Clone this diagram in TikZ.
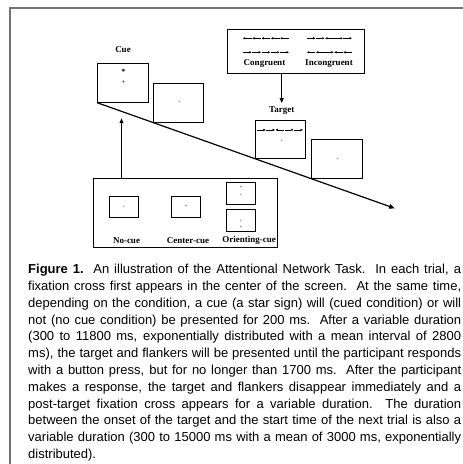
\documentclass[tikz,border=0pt]{standalone}
\usepackage{fontspec}
\setmainfont{Liberation Serif}
\newfontfamily\capfont{Liberation Sans}
\usetikzlibrary{arrows.meta}

% one row of five flanker arrows: start x, y, pitch, directions
\newcommand\flankrow[4]{%
  \foreach \d [count=\i from 0] in {#4} {%
    \pgfmathsetmacro\xa{#1+\i*#3}%
    \pgfmathsetmacro\xb{\xa+#3-0.7}%
    \ifnum\d>0
      \draw[flank] (\xa,#2) -- (\xb,#2);
    \else
      \draw[flank] (\xb,#2) -- (\xa,#2);
    \fi
  }}

\begin{document}
\begin{tikzpicture}[x=1pt,y=-1pt,
  screen/.style={draw, line width=0.9pt, minimum width=50.5pt, minimum height=38.8pt, inner sep=0pt},
  minisc/.style={draw, line width=0.9pt, minimum width=28.5pt, minimum height=21.4pt, inner sep=0pt},
  panel/.style={draw, line width=0.9pt, inner sep=0pt},
  lab/.style={font=\bfseries\fontsize{9}{9}\selectfont, inner sep=1pt},
  fixmark/.style={font=\fontsize{7}{7}\selectfont, inner sep=0pt},
  tinymark/.style={font=\fontsize{5}{5}\selectfont, inner sep=0pt, text=black!70},
  link/.style={line width=1.1pt, -{Triangle[length=5pt,width=4pt]}},
  flank/.style={line width=0.7pt, -{Triangle[length=2.2pt,width=2.2pt]}},
  caption/.style={text width=433pt, align=justify, inner sep=0pt,
    font=\capfont\fontsize{13}{16.8}\selectfont}]
\useasboundingbox (0,0) rectangle (463,464);

% outer frame
\draw[black!55, line width=1.6pt] (10,464) -- (10,8) -- (463,8);

% cue screen and the blank screen after it
\node[lab] (cuelab) at (123,49.5) {Cue};
\node[screen] (cue) at (123,82.9) {};
\node[fixmark, font=\bfseries\fontsize{8}{8}\selectfont] (star) at (123.3,72.2) {*};
\node[fixmark] (fix1) at (123.3,82.9) {+};
\node[screen] (blank1) at (178.5,102.7) {};
\node[tinymark] (fix2) at (179.5,102.4) {+};

% flanker panel
\node[panel, minimum width=137pt, minimum height=44.3pt] (flanker) at (295.8,51.2) {};
\flankrow{243}{38.3}{9.3}{-1,-1,-1,-1,-1}
\flankrow{243}{52.3}{9.3}{1,1,1,1,1}
\flankrow{307}{38.3}{9.1}{1,1,-1,1,1}
\flankrow{307}{52.3}{9.1}{-1,-1,1,-1,-1}
\node[lab] (conglab) at (264.5,63.8) {Congruent};
\node[lab] (inclab) at (329,63.8) {Incongruent};

% target screen and the blank screen after it
\node[lab] (tlab) at (281.7,110.7) {Target};
\node[screen] (target) at (280.5,139.5) {};
\flankrow{257}{129.9}{9.3}{1,1,-1,1,1}
\node[tinymark] (fix3) at (281.7,140.6) {+};
\node[screen] (blank2) at (336.8,159.0) {};
\node[tinymark] (fix4) at (337.7,159.1) {+};

% time line
\coordinate (tend) at (395,208.4);
\draw[line width=1.2pt, -{Triangle[length=6pt,width=4.5pt]}] (cue.south west) -- (tend);
\draw[link] (flanker.south -| tlab) -- ([yshift=2.5pt]tlab.north);

% cue conditions
\node[panel, minimum width=184.7pt, minimum height=68.8pt] (cues) at (185.35,213.0) {};
\coordinate (cuein) at (121.5,118.2);
\draw[link] (cues.north -| cuein) -- (cuein);
\node[minisc] (nocue) at (124,206.9) {};
\node[tinymark] at (124,207.2) {+};
\node[minisc] (centercue) at (186,206.7) {};
\node[tinymark] at (186,206.4) {*};
\node[minisc] (orient1) at (241,193.3) {};
\node[tinymark] at (241,187.9) {*};
\node[tinymark] at (241,195.2) {+};
\node[minisc] (orient2) at (241,220.6) {};
\node[tinymark] at (241,221.1) {+};
\node[tinymark] at (241,227.9) {*};
\node[lab] (nocuelab) at (126.5,240.3) {No-cue};
\node[lab] (centerlab) at (188,240.3) {Center-cue};
\node[lab] (orientlab) at (249,240.3) {Orienting-cue};

% caption
\node[caption, anchor=north west] (cap) at (28,264) {%
\textbf{Figure 1.}\ \ An illustration of the Attentional Network Task.\ \ In each trial, a\linebreak
fixation cross first appears in the center of the screen.\ \ At the same time,\linebreak
depending on the condition, a cue (a star sign) will (cued condition) or will\linebreak
not (no cue condition) be presented for 200 ms.\ \ After a variable duration\linebreak
(300 to 11800 ms, exponentially distributed with a mean interval of 2800\linebreak
ms), the target and flankers will be presented until the participant responds\linebreak
with a button press, but for no longer than 1700 ms.\ \ After the participant\linebreak
makes a response, the target and flankers disappear immediately and a\linebreak
post-target fixation cross appears for a variable duration.\ \ The duration\linebreak
between the onset of the target and the start time of the next trial is also a\linebreak
variable duration (300 to 15000 ms with a mean of 3000 ms, exponentially\linebreak
distributed).};
\end{tikzpicture}
\end{document}
